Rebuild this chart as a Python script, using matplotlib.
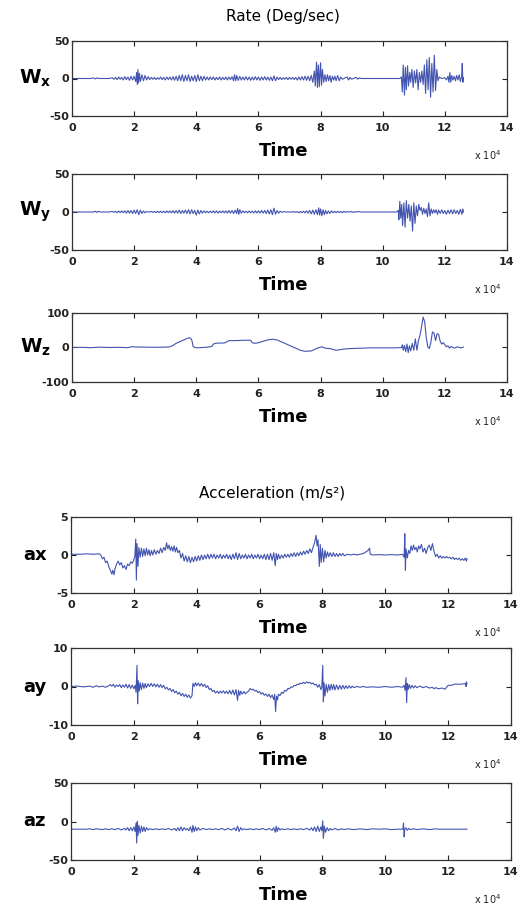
import numpy as np
import matplotlib
matplotlib.use('Agg')
import matplotlib.pyplot as plt

plt.rcParams['axes.unicode_minus'] = False

# temps en unites de 10^4
wx = np.array([
    (0.0, 0), (0.6, 0), (0.7, 0.8), (0.75, -0.6), (0.8, 0.7), (0.88, 0), (1.2, 0), (1.3, 1),
    (1.35, -1), (1.4, 1.5), (1.45, -1.5), (1.5, 2), (1.55, -1), (1.6, 1.5), (1.65, -2), (1.7, 2.5),
    (1.75, -1.5), (1.8, 2), (1.85, -2.5), (1.9, 3), (1.95, -2), (2.0, 3),
    (2.05, -4), (2.08, 8), (2.1, -8), (2.12, 12), (2.14, -6), (2.17, 7), (2.2, -4), (2.25, 5),
    (2.3, -3), (2.35, 4), (2.4, -2), (2.45, 2.5), (2.5, -1.5),
    (2.55, 1.5), (2.6, -1), (2.65, 1.5), (2.7, -1.5), (2.75, 1), (2.8, -1), (2.85, 2), (2.9, -1.5),
    (2.95, 1.5), (3.0, -2), (3.05, 2), (3.1, -1.5), (3.15, 2), (3.2, -2), (3.25, 2.5), (3.3, -2.5),
    (3.35, 3), (3.4, -3), (3.45, 4), (3.5, -3), (3.55, 5), (3.6, -4), (3.65, 4), (3.7, -3),
    (3.75, 5), (3.8, -4), (3.85, 3), (3.9, -3), (3.95, 4), (4.0, -4), (4.05, 5), (4.1, -3),
    (4.15, 3), (4.2, -3), (4.25, 3), (4.3, -2),
    (4.35, 2), (4.4, -2), (4.45, 2), (4.5, -1.5), (4.55, 2), (4.6, -2), (4.65, 1.5), (4.7, -1.5),
    (4.75, 2), (4.8, -2), (4.85, 1.5), (4.9, -1.5), (4.95, 2), (5.0, -2), (5.05, 2), (5.1, -1.5),
    (5.15, 2.5), (5.2, -3), (5.23, 5), (5.27, -3), (5.3, 4), (5.35, -2.5), (5.4, 3),
    (5.45, -2), (5.5, 2), (5.55, -2), (5.6, 2.5), (5.65, -2), (5.7, 2), (5.75, -2.5), (5.8, 2),
    (5.85, -2), (5.9, 2.5), (5.95, -2), (6.0, 2), (6.05, -2.5), (6.1, 2), (6.15, -2), (6.2, 2.5),
    (6.25, -2), (6.3, 2), (6.35, -2.5), (6.4, 2), (6.45, -3), (6.5, 3.5), (6.55, -3), (6.6, 2),
    (6.65, -1.5), (6.7, 1.5), (6.75, -1.5), (6.8, 1), (6.85, -1), (6.9, 1.5), (6.95, -1.5), (7.0, 1.5),
    (7.05, -1), (7.1, 1.5), (7.15, -1.5), (7.2, 1.5), (7.25, -2), (7.3, 2), (7.35, -2), (7.4, 2.5),
    (7.45, -2), (7.5, 3), (7.55, -2.5), (7.6, 3), (7.65, -3), (7.7, 4), (7.75, -5),
    (7.8, 10), (7.83, -10), (7.87, 22), (7.9, -12), (7.93, 18), (7.96, -11), (8.0, 21), (8.03, -9),
    (8.06, 12), (8.1, -5),
    (8.14, 5), (8.18, -4), (8.22, 5), (8.26, -3), (8.3, 4), (8.34, -5), (8.38, 3), (8.42, -2),
    (8.46, 3), (8.5, -3), (8.55, 4), (8.6, -3), (8.65, 2), (8.7, -1), (8.75, 0), (8.85, 2),
    (8.9, -2), (8.95, 1.5), (9.0, -1), (9.05, 0), (9.15, 1.5), (9.2, -1), (9.25, 1), (9.3, 0),
    (10.55, 0), (10.6, 2),
    (10.63, -18), (10.66, 18), (10.7, -22), (10.73, 15), (10.76, -15), (10.8, 17), (10.83, -10),
    (10.87, 8), (10.9, -5), (10.94, 12), (10.98, -12), (11.02, 10), (11.06, -6), (11.1, 12),
    (11.14, -15), (11.18, 8), (11.22, -5), (11.26, 10), (11.3, -8), (11.34, 18), (11.38, -20),
    (11.42, 25), (11.46, -15), (11.5, 28), (11.54, -25), (11.58, 20), (11.62, -18), (11.66, 31),
    (11.7, -16), (11.74, 12), (11.78, -3),
    (11.82, 2), (11.9, 0), (12.0, 1), (12.05, -2), (12.1, 3), (12.13, -5), (12.16, 8), (12.19, -5),
    (12.22, 4), (12.26, -2), (12.3, 3), (12.34, -3), (12.38, 4), (12.42, -2), (12.46, 5), (12.5, -4),
    (12.54, 3), (12.56, 20), (12.58, -5), (12.6, 1),
])

wy = np.array([
    (0.0, 0), (0.7, 0), (0.75, 1), (0.8, -0.5), (0.85, 1), (0.9, 0), (1.2, 0), (1.3, 0.8),
    (1.35, -0.5), (1.4, 1), (1.45, -1), (1.5, 1.2), (1.55, -0.8), (1.6, 1.5), (1.65, -1), (1.7, 1.5),
    (1.75, -1.5), (1.8, 2), (1.85, -1.5), (1.9, 2), (1.95, -2), (2.0, 2.5), (2.05, -2), (2.1, 3),
    (2.15, -3.5), (2.2, 2.5), (2.25, -2), (2.3, 1.5), (2.35, -1), (2.4, 0.5),
    (2.5, 0), (2.55, 0.8), (2.6, -0.5), (2.65, 0.8), (2.7, -0.8), (2.75, 1), (2.8, -0.8), (2.85, 1),
    (2.9, -1), (2.95, 1.2), (3.0, -1), (3.05, 1.5), (3.1, -1), (3.15, 1.5), (3.2, -1.2), (3.25, 1.8),
    (3.3, -1.5), (3.35, 2), (3.4, -1.5), (3.45, 2.5), (3.5, -2), (3.55, 2), (3.6, -1.5), (3.65, 2.5),
    (3.7, -2), (3.75, 3), (3.8, -2.5), (3.85, 3), (3.9, -2), (3.95, 2), (4.0, -4), (4.05, 2.5),
    (4.1, -2.5), (4.15, 2), (4.2, -1.5), (4.25, 1.5), (4.3, -1),
    (4.35, 1), (4.4, -1), (4.45, 1.2), (4.5, -1), (4.55, 1.5), (4.6, -1.2), (4.65, 1.5), (4.7, -1.5),
    (4.75, 1.2), (4.8, -1), (4.85, 1.5), (4.9, -1.2), (4.95, 1.5), (5.0, -1.5), (5.05, 2), (5.1, -1.5),
    (5.15, 2), (5.2, -2), (5.25, 2.5), (5.3, -2), (5.33, 4.5), (5.37, -3), (5.4, 3), (5.45, -1.5),
    (5.5, 1.5), (5.55, -1), (5.6, 1), (5.65, -1), (5.7, 1.2), (5.75, -1), (5.8, 1.2), (5.85, -1.2),
    (5.9, 1.5), (5.95, -1.2), (6.0, 1.5), (6.05, -1.5), (6.1, 2), (6.15, -1.5), (6.2, 2), (6.25, -2),
    (6.3, 2.5), (6.35, -2.5), (6.4, 3), (6.45, -3.5), (6.5, 5), (6.55, -3), (6.6, 2), (6.65, -1.5),
    (6.7, 1), (6.75, -0.5), (6.8, 0.5), (6.9, 0), (7.1, 0), (7.15, 0.5), (7.2, -0.5), (7.25, 0.5),
    (7.3, -1), (7.35, 0.8), (7.4, -1), (7.45, 1), (7.5, -1.2), (7.55, 1.5), (7.6, -1.5), (7.65, 2),
    (7.7, -2.5), (7.75, 2.5), (7.8, -3), (7.85, 3), (7.9, -3.5), (7.94, 5.5), (7.97, -4), (8.0, 4),
    (8.04, -5), (8.08, 3), (8.12, -3.5), (8.16, 2), (8.2, -2.5), (8.25, 1.5), (8.3, -2), (8.35, 1.5),
    (8.4, -1), (8.45, 1), (8.5, -1), (8.55, 1), (8.6, -0.8), (8.65, 0.8), (8.7, -1), (8.75, 1),
    (8.8, -0.5), (8.85, 0.5), (8.9, 0), (9.0, 0.5), (9.05, -0.5), (9.1, 0), (9.25, 0.5), (9.3, 0),
    (10.45, 0), (10.5, 2), (10.52, -10), (10.55, 14), (10.58, -8), (10.61, 10), (10.64, -18),
    (10.68, 12), (10.72, -20), (10.76, 15), (10.8, -8), (10.84, 10), (10.88, -12), (10.92, 8),
    (10.96, -25), (11.0, 12), (11.04, -15), (11.08, 8), (11.12, -5), (11.16, 10), (11.2, 2),
    (11.24, 6), (11.28, -3), (11.32, 5), (11.36, -2), (11.4, 4), (11.44, -6), (11.48, 12),
    (11.52, -5), (11.56, 4), (11.6, -2), (11.64, 3), (11.68, -1), (11.72, 3), (11.76, -3),
    (11.8, 2.5), (11.85, -2), (11.9, 3), (11.95, -2), (12.0, 2), (12.05, -3), (12.1, 2.5),
    (12.15, -2), (12.2, 3), (12.25, -2.5), (12.3, 3), (12.35, -2), (12.4, 2), (12.45, -3),
    (12.5, 3.5), (12.55, -3), (12.58, 4), (12.6, 0),
])

wz = np.array([
    (0.0, 0), (0.3, 0.5), (0.6, -0.5), (0.9, 1), (1.2, 0), (1.5, 0.5), (1.8, -0.5), (1.9, 2),
    (2.1, 1.5), (2.4, 1), (2.7, 0.5), (3.0, 1), (3.15, 2),
    (3.25, 6), (3.35, 12), (3.45, 16), (3.55, 20), (3.65, 24), (3.75, 28), (3.82, 27), (3.86, 20),
    (3.9, 3), (3.95, 0), (4.05, -1), (4.2, 0), (4.35, 1), (4.5, 3), (4.55, 10), (4.62, 12),
    (4.75, 13), (4.9, 13), (4.98, 16), (5.05, 20), (5.3, 20), (5.5, 21), (5.75, 21), (5.8, 14),
    (5.9, 12), (6.0, 14), (6.15, 18), (6.3, 22), (6.45, 24), (6.6, 22), (6.8, 14), (7.0, 6),
    (7.2, -2), (7.35, -8), (7.5, -11), (7.7, -10), (7.85, -4), (7.95, 0), (8.05, 2), (8.15, -2),
    (8.3, -3), (8.5, -8), (8.65, -6), (8.8, -4), (9.0, -3), (9.3, -2), (9.6, -1), (10.0, -1),
    (10.3, -1), (10.6, -0.5),
    (10.63, 8), (10.66, -8), (10.7, 6), (10.74, -12), (10.78, 10), (10.82, -15), (10.86, 5),
    (10.9, -10), (10.95, 12), (11.0, -8), (11.05, 25), (11.1, -8), (11.15, 20), (11.2, 35),
    (11.25, 60), (11.3, 88), (11.35, 75), (11.4, 30), (11.45, 2), (11.5, -3), (11.55, 15),
    (11.6, 45), (11.65, 42), (11.7, 20), (11.75, 40), (11.8, 38), (11.85, 18), (11.9, 10),
    (11.95, 14), (12.0, 8), (12.05, 2), (12.1, 5), (12.15, -2), (12.2, 3), (12.3, -2), (12.4, 2),
    (12.5, -1), (12.6, 1),
])

acc_x = np.array([
    (0.0, 0.1), (0.3, 0.1), (0.5, 0.15), (0.7, 0.1), (0.9, 0.15), (0.95, 0), (1.0, -0.5), (1.05, -0.3),
    (1.1, -1.0), (1.15, -0.8), (1.2, -1.5), (1.25, -2.0), (1.3, -2.5), (1.33, -2.0), (1.37, -2.6),
    (1.4, -1.8), (1.45, -1.2), (1.5, -0.8), (1.55, -1.3), (1.6, -1.0), (1.65, -1.7), (1.7, -1.4),
    (1.75, -1.9), (1.8, -1.2), (1.85, -1.4), (1.9, -0.9), (1.95, -1.1), (2.0, -0.6), (2.03, -0.2),
    (2.06, 2.1), (2.08, -3.3), (2.1, 1.5), (2.13, -1.5), (2.16, 1.0), (2.2, -0.3), (2.24, 0.9),
    (2.28, -0.2), (2.32, 0.8), (2.36, -0.1), (2.4, 0.9), (2.44, 0.0), (2.48, 0.7), (2.52, -0.1),
    (2.56, 0.6), (2.6, 0.0), (2.65, 0.7), (2.7, 0.1), (2.75, 0.6), (2.8, 0.2), (2.85, 0.9),
    (2.9, 0.3), (2.95, 1.0), (3.0, 0.6), (3.04, 1.6), (3.08, 0.8), (3.12, 1.3), (3.16, 0.6),
    (3.2, 1.1), (3.24, 0.5), (3.28, 1.2), (3.32, 0.4), (3.36, 1.0), (3.4, 0.3), (3.45, 0.6),
    (3.5, -0.4), (3.55, 0.2), (3.6, -0.8), (3.65, -0.1), (3.7, -0.9), (3.75, -0.2), (3.8, -1.0),
    (3.85, -0.3), (3.9, -0.9), (3.95, -0.2), (4.0, -0.8), (4.05, -0.1), (4.1, -0.7), (4.15, 0.0),
    (4.2, -0.6), (4.25, 0.0), (4.3, -0.5), (4.35, 0.1), (4.4, -0.5), (4.45, 0.1), (4.5, -0.4),
    (4.55, 0.1), (4.6, -0.5), (4.65, 0.0), (4.7, -0.4), (4.75, 0.1), (4.8, -0.5), (4.85, 0.0),
    (4.9, -0.4), (4.95, 0.1), (5.0, -0.5), (5.05, 0.0), (5.1, -0.6), (5.15, 0.1), (5.2, -0.5),
    (5.25, 0.3), (5.3, -0.6), (5.35, 0.2), (5.4, -0.5), (5.45, 0.0), (5.5, -0.4), (5.55, 0.1),
    (5.6, -0.5), (5.65, 0.0), (5.7, -0.4), (5.75, 0.1), (5.8, -0.5), (5.85, 0.0), (5.9, -0.4),
    (5.95, 0.1), (6.0, -0.5), (6.05, 0.0), (6.1, -0.5), (6.15, 0.1), (6.2, -0.6), (6.25, 0.1),
    (6.3, -0.6), (6.35, 0.2), (6.4, -0.7), (6.45, 0.3), (6.5, -1.4), (6.53, 0.2), (6.57, -0.6),
    (6.6, 0.1), (6.65, -0.5), (6.7, 0.0), (6.75, -0.4), (6.8, 0.1), (6.85, -0.3), (6.9, 0.1),
    (6.95, -0.3), (7.0, 0.2), (7.05, -0.2), (7.1, 0.3), (7.15, -0.2), (7.2, 0.3), (7.25, -0.1),
    (7.3, 0.4), (7.35, 0.0), (7.4, 0.5), (7.45, 0.1), (7.5, 0.6), (7.55, 0.2), (7.6, 0.8),
    (7.65, 0.3), (7.7, 1.0), (7.75, 1.6), (7.8, 2.6), (7.83, 1.2), (7.86, 2.0), (7.9, -1.5),
    (7.93, 1.4), (7.96, -1.0), (8.0, 0.9), (8.04, -0.9), (8.08, 0.6), (8.12, -0.4), (8.16, 0.4),
    (8.2, -0.2), (8.25, 0.3), (8.3, -0.2), (8.35, 0.3), (8.4, -0.2), (8.45, 0.2), (8.5, -0.2),
    (8.55, 0.2), (8.6, -0.1), (8.65, 0.2), (8.7, -0.1), (8.8, 0.1), (8.9, 0.0), (9.0, 0.1),
    (9.1, 0.0), (9.2, 0.1), (9.3, 0.2), (9.38, 0.4), (9.45, 0.6), (9.5, 0.9), (9.52, 0.1),
    (9.6, 0.0), (9.8, 0.05), (10.0, 0.0), (10.2, 0.05), (10.4, 0.0), (10.55, 0.1), (10.6, -0.3),
    (10.62, 2.8), (10.64, -2.0), (10.66, 0.8), (10.7, -0.4), (10.74, 0.6), (10.78, 0.2),
    (10.82, 1.2), (10.86, 0.6), (10.9, 1.3), (10.94, 0.7), (10.98, 1.0), (11.02, 0.4), (11.06, 1.2),
    (11.1, 0.8), (11.15, 1.4), (11.2, 0.4), (11.25, 0.9), (11.3, 0.2), (11.35, 1.0), (11.4, 1.3),
    (11.45, 0.6), (11.5, 1.5), (11.55, 0.5), (11.6, -0.2), (11.65, 0.1), (11.7, -0.4), (11.75, -0.1),
    (11.8, -0.4), (11.85, -0.2), (11.9, -0.4), (11.95, -0.2), (12.0, -0.4), (12.05, -0.3),
    (12.1, -0.5), (12.15, -0.3), (12.2, -0.6), (12.25, -0.4), (12.3, -0.6), (12.35, -0.4),
    (12.4, -0.7), (12.45, -0.5), (12.5, -0.7), (12.55, -0.4), (12.58, -0.8), (12.6, -0.5),
])

acc_y = np.array([
    (0.0, 0.0), (0.2, 0.1), (0.4, -0.1), (0.6, 0.1), (0.7, -0.2), (0.8, 0.2), (0.9, -0.1), (1.0, 0.1),
    (1.1, -0.2), (1.2, 0.2), (1.25, 0.5), (1.3, 0.1), (1.35, 0.6), (1.4, -0.2), (1.45, 0.4),
    (1.5, 0.0), (1.55, 0.5), (1.6, -0.3), (1.65, 0.4), (1.7, -0.2), (1.75, 0.6), (1.8, -0.4),
    (1.85, 0.5), (1.9, -0.5), (1.95, 0.4), (2.0, -0.6), (2.04, 0.3), (2.07, -1.5), (2.1, 5.5),
    (2.12, -4.5), (2.14, 1.5), (2.17, -1.2), (2.2, 1.0), (2.24, -0.8), (2.28, 0.9), (2.32, -0.5),
    (2.36, 0.8), (2.4, -0.3), (2.45, 0.7), (2.5, 0.0), (2.55, 0.8), (2.6, 0.0), (2.65, 0.7),
    (2.7, -0.1), (2.75, 0.6), (2.8, -0.2), (2.85, 0.5), (2.9, -0.3), (2.95, 0.3), (3.0, -0.6),
    (3.05, -0.2), (3.1, -0.9), (3.15, -0.5), (3.2, -1.3), (3.25, -0.8), (3.3, -1.6), (3.35, -1.2),
    (3.4, -2.0), (3.45, -1.5), (3.5, -2.4), (3.55, -1.8), (3.6, -2.6), (3.65, -2.0), (3.7, -2.8),
    (3.75, -2.2), (3.8, -3.0), (3.85, -2.4), (3.88, 0.8), (3.92, 0.0), (3.96, 1.0), (4.0, 0.2),
    (4.05, 0.9), (4.1, 0.1), (4.15, 0.8), (4.2, 0.0), (4.25, 0.6), (4.3, -0.3), (4.35, 0.2),
    (4.4, -0.8), (4.45, -0.5), (4.5, -1.3), (4.55, -1.0), (4.6, -1.7), (4.65, -1.2), (4.7, -1.8),
    (4.75, -1.2), (4.8, -1.7), (4.85, -1.1), (4.9, -1.8), (4.95, -1.2), (5.0, -1.9), (5.05, -1.0),
    (5.1, -2.0), (5.15, -0.9), (5.2, -2.2), (5.25, -0.8), (5.3, -3.6), (5.33, -1.0), (5.37, -2.3),
    (5.4, -1.2), (5.45, -2.0), (5.5, -1.3), (5.55, -1.9), (5.6, -1.5), (5.65, -1.2), (5.7, -0.5),
    (5.75, -0.9), (5.8, -0.7), (5.85, -1.2), (5.9, -1.0), (5.95, -1.6), (6.0, -1.3), (6.05, -2.0),
    (6.1, -1.6), (6.15, -2.3), (6.2, -1.9), (6.25, -2.6), (6.3, -2.0), (6.35, -2.9), (6.4, -2.2),
    (6.45, -3.4), (6.48, -2.0), (6.51, -6.5), (6.54, -2.5), (6.57, -3.5), (6.6, -2.0), (6.65, -2.4),
    (6.7, -1.5), (6.75, -1.8), (6.8, -1.0), (6.85, -1.2), (6.9, -0.5), (6.95, -0.6), (7.0, -0.1),
    (7.05, -0.2), (7.1, 0.3), (7.15, 0.2), (7.2, 0.6), (7.25, 0.5), (7.3, 0.9), (7.35, 0.7),
    (7.4, 1.1), (7.45, 0.8), (7.5, 1.2), (7.55, 0.9), (7.6, 1.1), (7.65, 0.7), (7.7, 0.9),
    (7.75, 0.4), (7.8, 0.6), (7.85, -0.2), (7.9, 0.5), (7.95, -0.8), (7.98, -0.2), (8.01, 5.5),
    (8.03, -4.0), (8.05, 1.0), (8.08, -2.5), (8.12, 0.6), (8.16, -1.5), (8.2, 0.5), (8.24, -1.0),
    (8.28, 0.6), (8.32, -0.8), (8.36, 0.5), (8.4, -0.9), (8.45, 0.4), (8.5, -0.8), (8.55, 0.3),
    (8.6, -0.7), (8.65, 0.3), (8.7, -0.6), (8.75, 0.2), (8.8, -0.5), (8.85, 0.2), (8.9, -0.4),
    (8.95, 0.1), (9.0, -0.3), (9.1, 0.0), (9.2, -0.2), (9.3, 0.0), (9.4, -0.2), (9.6, -0.1),
    (9.8, -0.2), (10.0, 0.0), (10.2, -0.2), (10.4, 0.0), (10.55, -0.2), (10.6, 0.3), (10.63, -1.0),
    (10.66, 2.3), (10.68, -4.2), (10.7, 0.8), (10.73, -0.8), (10.76, 0.5), (10.8, -0.5),
    (10.85, 0.3), (10.9, -0.4), (10.95, 0.2), (11.0, -0.3), (11.1, 0.1), (11.2, -0.3), (11.3, 0.0),
    (11.4, -0.4), (11.5, -0.2), (11.55, -0.6), (11.6, -0.3), (11.7, -0.6), (11.8, -0.4),
    (11.9, -0.7), (11.95, -0.2), (12.0, 0.3), (12.1, 0.3), (12.2, 0.6), (12.4, 0.6), (12.5, 0.7),
    (12.56, 0.8), (12.57, 0.0), (12.58, 1.2), (12.6, 0.7),
])

acc_z = np.array([
    (0.0, -10), (0.5, -10), (0.6, -9.5), (0.7, -10.5), (0.8, -9.5), (0.9, -10), (1.0, -10.5),
    (1.1, -9.5), (1.2, -10.5), (1.3, -9.5), (1.4, -10.5), (1.5, -9), (1.6, -11), (1.7, -9),
    (1.75, -11), (1.8, -8), (1.85, -12), (1.9, -8), (1.95, -12), (2.0, -7), (2.04, -13), (2.07, -2),
    (2.09, -28), (2.11, 0), (2.13, -18), (2.16, -5), (2.2, -15), (2.24, -6), (2.28, -13), (2.32, -7),
    (2.36, -13), (2.4, -8), (2.45, -11), (2.5, -9.5), (2.6, -10.5), (2.7, -9.5), (2.8, -10.5),
    (2.9, -9.5), (3.0, -10.5), (3.1, -9), (3.2, -11), (3.3, -9), (3.35, -12), (3.4, -8), (3.45, -12),
    (3.5, -7), (3.55, -12), (3.6, -8), (3.65, -11), (3.7, -9), (3.75, -12), (3.8, -7), (3.85, -14),
    (3.88, -5), (3.92, -13), (3.96, -7), (4.0, -12), (4.05, -8), (4.1, -11), (4.2, -9), (4.3, -10.5),
    (4.4, -9.5), (4.5, -10.5), (4.6, -9.5), (4.7, -10.5), (4.8, -9), (4.9, -11), (5.0, -9),
    (5.1, -11), (5.2, -8.5), (5.25, -12), (5.3, -6), (5.35, -13), (5.4, -8), (5.45, -11),
    (5.5, -9.5), (5.6, -10.5), (5.7, -9.5), (5.8, -10.5), (5.9, -9.5), (6.0, -10.5), (6.1, -9),
    (6.2, -11), (6.3, -9), (6.4, -11.5), (6.45, -8), (6.5, -14), (6.53, -6), (6.56, -13), (6.6, -8),
    (6.65, -11), (6.7, -9.5), (6.8, -10.5), (6.9, -9.5), (7.0, -10.5), (7.1, -9.5), (7.2, -10.5),
    (7.3, -9.5), (7.4, -10.5), (7.5, -9), (7.6, -11), (7.65, -8), (7.7, -12), (7.75, -7), (7.8, -13),
    (7.85, -6), (7.9, -13), (7.95, -7), (7.98, -12), (8.01, 1), (8.03, -22), (8.06, -6), (8.1, -14),
    (8.15, -8), (8.2, -12), (8.25, -9), (8.3, -11), (8.4, -9), (8.5, -11), (8.6, -9.5), (8.7, -10.5),
    (8.8, -9.5), (9.0, -10.5), (9.2, -9.5), (9.4, -10.5), (9.6, -9.5), (9.8, -10), (10.0, -9.5),
    (10.2, -10.5), (10.4, -10), (10.56, -10), (10.58, -2), (10.6, -20), (10.62, -10), (10.66, -8),
    (10.7, -11.5), (10.75, -9), (10.8, -10.5), (10.9, -9.5), (11.0, -10.5), (11.2, -9.5),
    (11.4, -10.5), (11.6, -9.5), (11.7, -10), (12.6, -10),
])

W, H = 521, 906
BLEU = '#4254b0'

fig = plt.figure(figsize=(W / 100, H / 100), dpi=100)


def rect(g, h, d, b):  # boite en pixels (gauche, haut, droite, bas) -> coord figure
    return [g / W, 1 - b / H, (d - g) / W, (b - h) / H]


def fig_text(x, y, s, **kw):  # texte place en pixels
    fig.text(x / W, 1 - y / H, s, **kw)


def panneau(data, ylim, boite, label, label_size):
    ax = fig.add_axes(rect(*boite))
    ax.plot(data[:, 0], data[:, 1], color=BLEU, lw=0.8)
    ax.set_xlim(0, 14)
    ax.set_ylim(-ylim, ylim)
    ax.set_xticks(range(0, 15, 2))
    ax.set_yticks([-ylim, 0, ylim])
    ax.tick_params(direction='in', top=True, right=True, length=3.5, width=0.8,
                   labelsize=8, colors='#222222')
    ax.tick_params(axis='x', pad=5)
    ax.tick_params(axis='y', pad=2)
    for t in ax.get_xticklabels() + ax.get_yticklabels():
        t.set_fontweight('bold')
    for s in ax.spines.values():
        s.set_color('#333333')
        s.set_linewidth(0.9)
    g, h, d, b = boite
    fig_text(284, b + 35, 'Time', fontsize=13, fontweight='bold', ha='center', va='center')
    fig_text(488, b + 39, r'x 10$^4$', fontsize=7, ha='center', va='center', color='#222222')
    fig_text(35, (h + b) / 2, label, fontsize=label_size, fontweight='bold', ha='center', va='center')
    return ax


fig_text(283, 17, 'Rate (Deg/sec)', fontsize=11, ha='center', va='center')
fig_text(272, 493, 'Acceleration (m/s²)', fontsize=11, ha='center', va='center')

panneau(wx, 50, (72, 41, 507, 116), r'$\mathbf{W_x}$', 14)
panneau(wy, 50, (72, 174, 507, 250), r'$\mathbf{W_y}$', 14)
panneau(wz, 100, (72, 313, 507, 382), r'$\mathbf{W_z}$', 14)
panneau(acc_x, 5, (71, 517, 511, 593), 'ax', 13)
panneau(acc_y, 10, (71, 648, 511, 725), 'ay', 13)
panneau(acc_z, 50, (71, 783, 511, 860), 'az', 13)

plt.savefig('out.png', dpi=100)
